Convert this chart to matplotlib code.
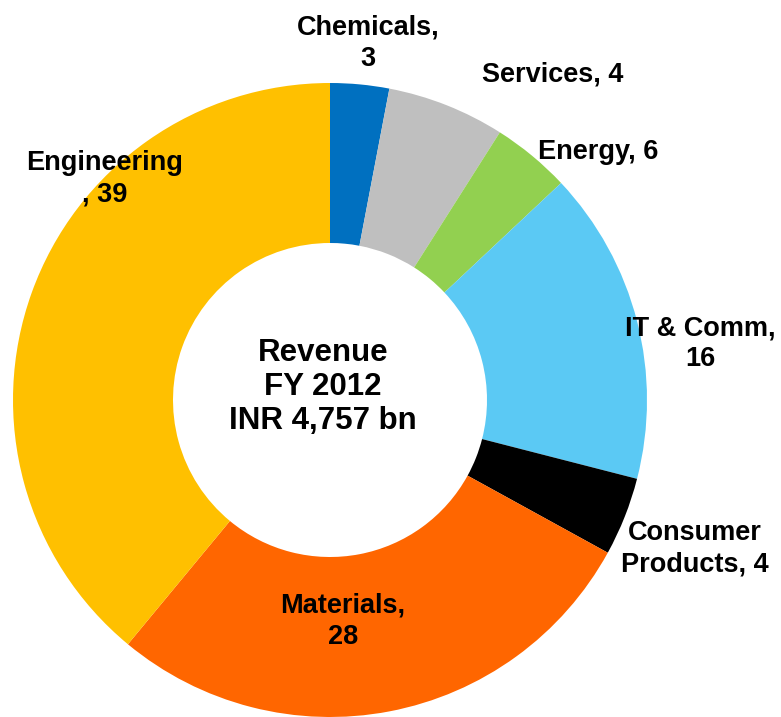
import matplotlib.pyplot as plt

# Datos del gráfico (sentido horario desde arriba)
sectores = ['Chemicals', 'Services', 'Energy', 'IT & Comm', 'Consumer Products', 'Materials', 'Engineering']
tamanos = [3, 6, 4, 16, 4, 28, 39]          # tamaño de cada sector tal como se dibuja
valores_etiqueta = [3, 4, 6, 16, 4, 28, 39]  # números impresos en las etiquetas
textos = ['Chemicals,\n3', 'Services, 4', 'Energy, 6', 'IT & Comm,\n16',
          'Consumer\nProducts, 4', 'Materials,\n28', 'Engineering\n, 39']
colores = ['#0070C0', '#BFBFBF', '#92D050', '#5BC9F4', '#000000', '#FF6600', '#FFC000']
titulo_centro = 'Revenue\nFY 2012\nINR 4,757 bn'

# Posiciones de las etiquetas en píxeles (x, y desde arriba)
pos_etiquetas = [(368, 43), (553, 75), (598, 152), (700, 344), (695, 549), (343, 621), (105, 179)]

W, H = 781, 717
plt.rcParams['font.family'] = ['Liberation Sans', 'DejaVu Sans']

fig = plt.figure(figsize=(W / 100, H / 100), dpi=100)
ax = fig.add_axes([0, 0, 1, 1])

ax.pie(tamanos, colors=colores, startangle=90, counterclock=False,
       radius=317, center=(330, H - 400),
       wedgeprops=dict(width=160, edgecolor='none'))

for texto, (x, y) in zip(textos, pos_etiquetas):
    ax.text(x, H - y, texto, ha='center', va='center', fontsize=19.5,
            fontweight='bold', linespacing=1.25)

ax.text(323, H - 387, titulo_centro, ha='center', va='center', fontsize=22.5,
        fontweight='bold', linespacing=1.18)

ax.set_xlim(0, W)
ax.set_ylim(0, H)
ax.set_aspect('equal')
ax.axis('off')

fig.savefig('out.png', dpi=100)
